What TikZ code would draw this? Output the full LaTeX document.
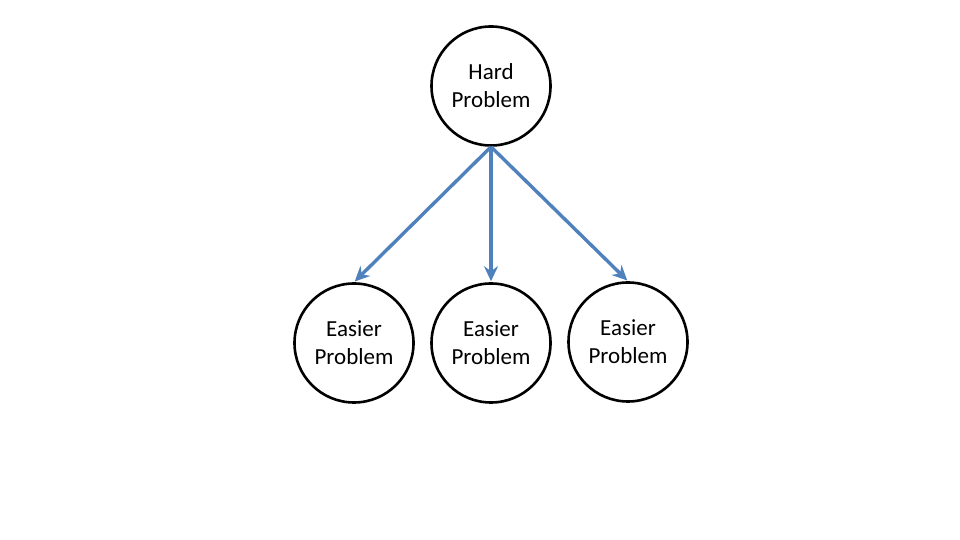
\documentclass[tikz,border=0pt]{standalone}
\usepackage{fontspec}
\setmainfont{Carlito}
\usetikzlibrary{positioning, arrows.meta}
\definecolor{edgeblue}{RGB}{79,129,189}
\tikzset{
x=1pt, y=1pt,
problem/.style={circle, draw=black, line width=2.6pt, minimum size=119pt, inner sep=0pt, align=center, font=\fontsize{23}{28}\selectfont}, % every circle
split/.style={-{Stealth[length=15pt, width=14pt, inset=5pt]}, draw=edgeblue, line width=3.4pt, shorten >=1pt}, % the blue arrows
}
\begin{document}
\begin{tikzpicture}
                \useasboundingbox (0,0) rectangle (960,540);
                \node[problem] (hard) at (491,454) {Hard\\Problem};
                \node[problem] (easyA) at (354,197) {Easier\\Problem};
                \node[problem] (easyB) at (491,197) {Easier\\Problem};
                \node[problem] (easyC) at (628,198) {Easier\\Problem};
                \draw[split] (hard.south) -- (easyA.north);
                \draw[split] (hard.south) -- (easyB.north);
                \draw[split] (hard.south) -- (easyC.north);
                \end{tikzpicture}
\end{document}
